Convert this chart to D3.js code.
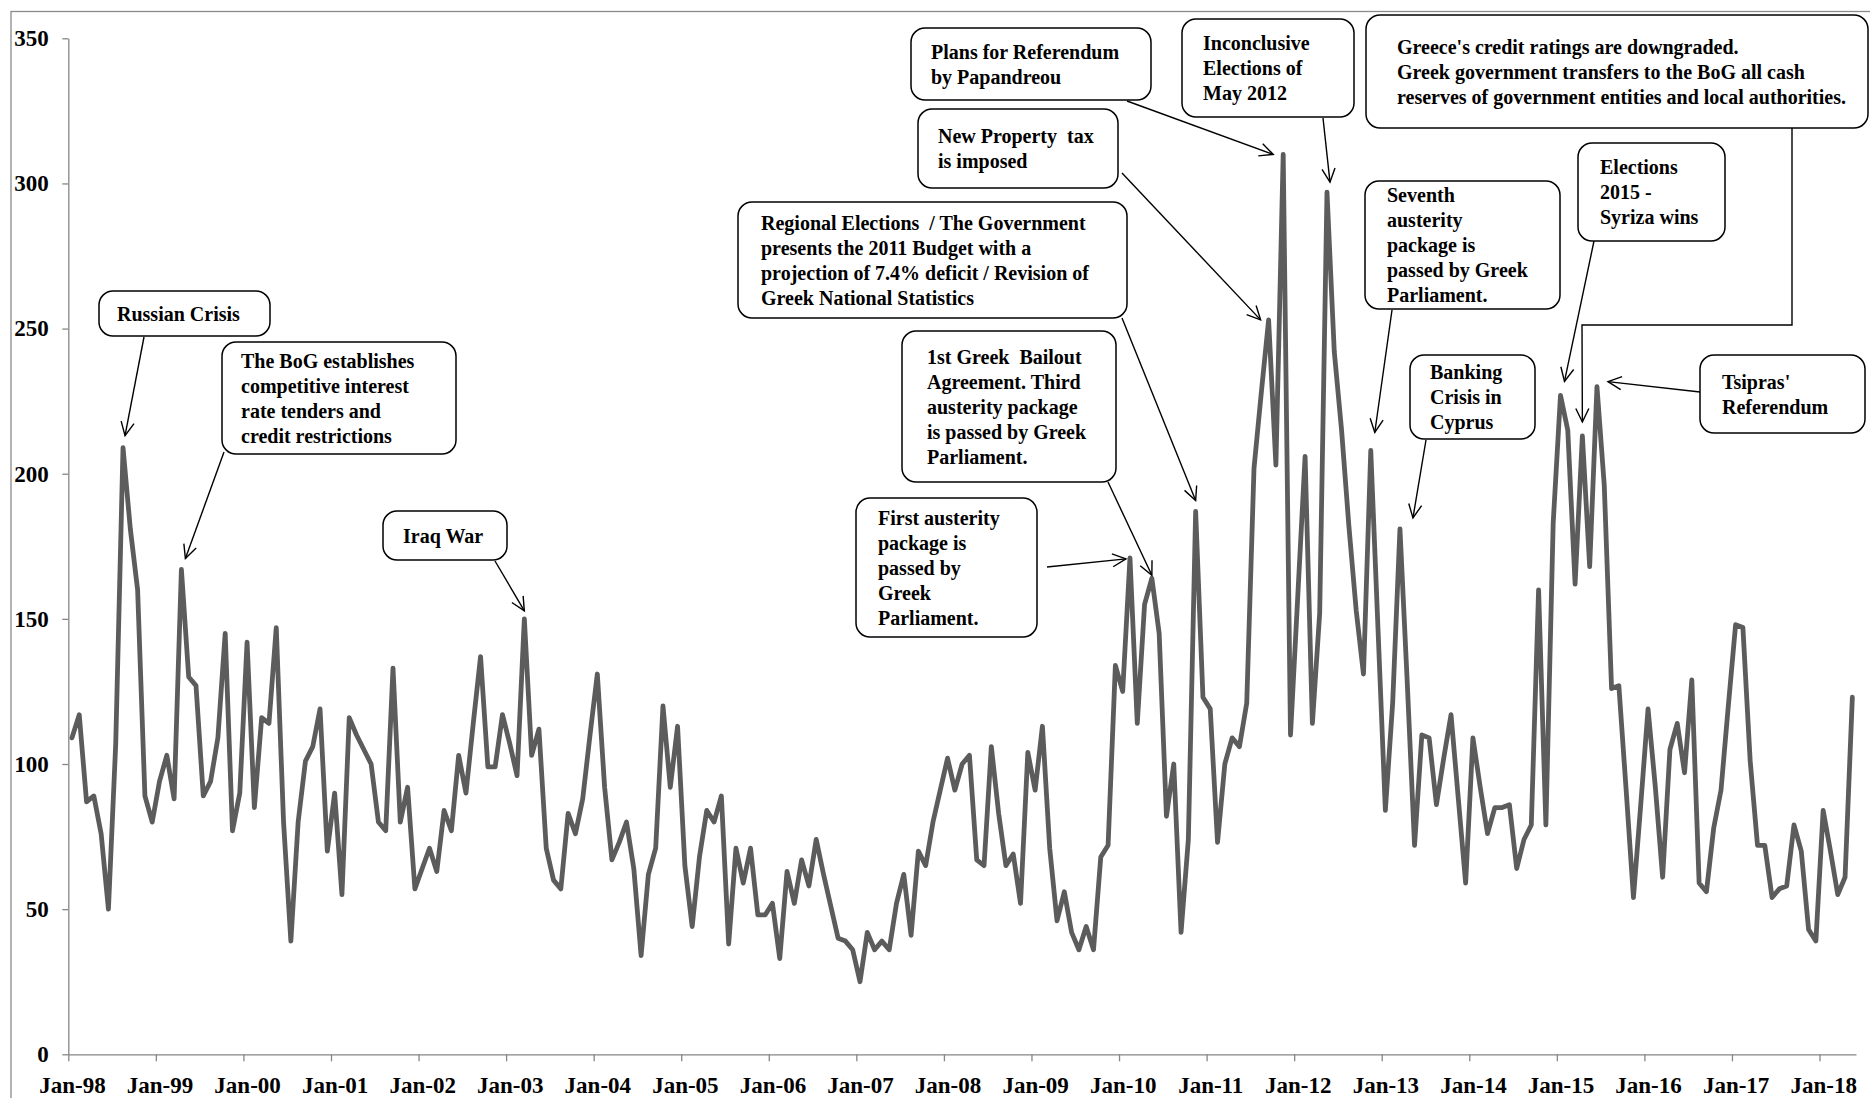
<!DOCTYPE html>
<html>
<head>
<meta charset="utf-8">
<script src="https://cdn.jsdelivr.net/npm/d3@7"></script>
<style>
  html, body { margin: 0; padding: 0; background: #fff; }
  svg { display: block; }
  text { font-family: "Liberation Serif", "Times New Roman", serif; font-weight: bold; fill: #000; }
  .ann text { white-space: pre; }
</style>
</head>
<body>
<svg id="chart" width="1870" height="1098"></svg>
<script>
// ---------------- DATA ----------------
const startYear = 1998;               // first month: Jan-1998 (monthly series)
const values = [
  109,117,87,89,76,50,107,209,181,160,89,80,          // 1998
  94,103,88,167,130,127,89,94,109,145,77,90,          // 1999
  142,85,116,114,147,80,39,80,101,106,119,70,         // 2000
  90,55,116,110,105,100,80,77,133,80,92,57,           // 2001
  64,71,63,84,77,103,90,114,137,99,99,117,            // 2002
  107,96,150,103,112,71,60,57,83,76,88,110,           // 2003
  131,92,67,73,80,64,34,62,71,120,92,113,             // 2004
  65,44,68,84,80,89,38,71,59,71,48,48,                // 2005
  52,33,63,52,67,58,74,62,51,40,39,36,                // 2006
  25,42,36,39,36,52,62,41,70,65,80,91,                // 2007
  102,91,100,103,67,65,106,83,65,69,52,104,           // 2008
  91,113,71,46,56,42,36,44,36,68,72,134,              // 2009
  125,171,114,155,164,145,82,100,42,74,187,123,       // 2010
  119,73,100,109,106,121,202,228,253,203,310,110,     // 2011
  158,206,114,152,297,242,215,182,153,131,208,146,    // 2012
  84,121,181,128,72,110,109,86,102,117,88,59,         // 2013
  109,92,76,85,85,86,64,74,79,160,79,183,             // 2014
  227,215,162,213,168,230,196,126,127,91,54,86,       // 2015
  119,92,61,105,114,97,129,59,56,78,91,120,           // 2016
  148,147,101,72,72,54,57,58,79,70,43,39,             // 2017
  84,70,55,61,123                                     // 2018
];
const xTickLabels = ["Jan-98","Jan-99","Jan-00","Jan-01","Jan-02","Jan-03","Jan-04","Jan-05",
  "Jan-06","Jan-07","Jan-08","Jan-09","Jan-10","Jan-11","Jan-12","Jan-13","Jan-14","Jan-15",
  "Jan-16","Jan-17","Jan-18"];
const yTicks = [0,50,100,150,200,250,300,350];

// annotation texts and the month index each one points to
const annTexts = [
  ["Russian Crisis"],
  ["The BoG establishes","competitive interest","rate tenders and","credit restrictions"],
  ["Iraq War"],
  ["First austerity","package is","passed by","Greek","Parliament."],
  ["1st Greek  Bailout","Agreement. Third","austerity package","is passed by Greek","Parliament."],
  ["Regional Elections  / The Government","presents the 2011 Budget with a","projection of 7.4% deficit / Revision of","Greek National Statistics"],
  ["New Property  tax","is imposed"],
  ["Plans for Referendum","by Papandreou"],
  ["Inconclusive","Elections of","May 2012"],
  ["Greece's credit ratings are downgraded.","Greek government transfers to the BoG all cash","reserves of government entities and local authorities."],
  ["Seventh","austerity","package is","passed by Greek","Parliament."],
  ["Banking","Crisis in","Cyprus"],
  ["Elections","2015 -","Syriza wins"],
  ["Tsipras'","Referendum"]
];
const annTargets = [7,15,62,145,148,154,164,166,172,207,178,182,204,209];

// ---------------- LAYOUT (positions / styles) ----------------
const annLayout = [
  {box:[99,291,270,336],   tx:117,  from:[[144,337]],  off:[2,-12]},
  {box:[222,342,456,454],  tx:241,  from:[[224,452]],  off:[4,-11]},
  {box:[383,511,507,560],  tx:403,  from:[[495,561]],  off:[0,-8]},
  {box:[856,498,1037,637], tx:878,  from:[[1047,567]], off:[-4,1]},
  {box:[902,331,1116,482], tx:927,  from:[[1108,482]], off:[0,-3]},
  {box:[738,202,1127,318], tx:761,  from:[[1122,318]], off:[0,-11]},
  {box:[918,109,1118,188], tx:938,  from:[[1122,173]], off:[-8,0]},
  {box:[911,28,1151,100],  tx:931,  from:[[1127,101]], off:[-10,0]},
  {box:[1182,19,1354,117], tx:1203, from:[[1323,118]], off:[3,-10]},
  {box:[1366,15,1868,128], tx:1397, from:[[1792,128],[1792,325],[1582,325]], off:[0,-14]},
  {box:[1365,181,1560,309],tx:1387, from:[[1392,310]], off:[4,-18]},
  {box:[1410,355,1535,439],tx:1430, from:[[1426,440]], off:[13,-11]},
  {box:[1578,143,1725,241],tx:1600, from:[[1594,241]], off:[4,-14]},
  {box:[1700,355,1865,433],tx:1722, from:[[1700,392]], off:[11,-5]}
];

const W = 1870, H = 1098;
const plot = {left: 68.3, right: 1856, top: 38.3, bottom: 1054.3};
const axisColor = "#868686";
const lineColor = "#5c5c5c";
const annFont = 20, annLH = 25;

const svg = d3.select("#chart");

// outer chart frame
svg.append("rect")
  .attr("x", 11).attr("y", 11.5)
  .attr("width", W + 20).attr("height", H + 20)
  .attr("fill", "none").attr("stroke", "#8a8a8a").attr("stroke-width", 1.3);

const n = values.length;
const x = d3.scaleLinear().domain([0, n]).range([plot.left, plot.right]);
const y = d3.scaleLinear().domain([0, 350]).range([plot.bottom, plot.top]);
const px = i => x(i + 0.5);

// y axis
const yAxis = svg.append("g")
  .attr("transform", `translate(${plot.left},0)`)
  .call(d3.axisLeft(y).tickValues(yTicks).tickSize(6).tickSizeOuter(0).tickPadding(13.5));
yAxis.attr("font-family", null);
yAxis.select(".domain").attr("stroke", axisColor).attr("stroke-width", 1.3);
yAxis.selectAll(".tick line").attr("stroke", axisColor).attr("stroke-width", 1.3);
yAxis.selectAll(".tick text").style("font-size", "23px");

// x axis: ticks at year boundaries, labels centered on first month
const xAxis = svg.append("g")
  .attr("transform", `translate(0,${plot.bottom})`)
  .call(d3.axisBottom(x)
    .tickValues(xTickLabels.map((d, i) => i * 12))
    .tickFormat((d, i) => xTickLabels[i])
    .tickSize(7).tickSizeOuter(0).tickPadding(15.5));
xAxis.attr("font-family", null);
xAxis.select(".domain").attr("stroke", axisColor).attr("stroke-width", 1.3);
xAxis.selectAll(".tick line").attr("stroke", axisColor).attr("stroke-width", 1.3);
xAxis.selectAll(".tick text")
  .style("font-size", "23px")
  .attr("dx", (x(1) - x(0)) / 2);

// data line
const line = d3.line().x((d, i) => px(i)).y(d => y(d));
svg.append("path")
  .datum(values)
  .attr("d", line)
  .attr("fill", "none")
  .attr("stroke", lineColor)
  .attr("stroke-width", 4.8)
  .attr("stroke-linejoin", "round")
  .attr("stroke-linecap", "round");

// annotations
const ann = svg.append("g").attr("class", "ann");
annTexts.forEach((lines, k) => {
  const L = annLayout[k];
  const [x0, y0, x1, y1] = L.box;
  const g = ann.append("g");
  // connector + arrow
  const ti = annTargets[k];
  const tip = [px(ti) + L.off[0], y(values[ti]) + L.off[1]];
  const pts = L.from.concat([tip]);
  g.append("path")
    .attr("d", d3.line()(pts))
    .attr("fill", "none").attr("stroke", "#000").attr("stroke-width", 1.4);
  const prev = pts[pts.length - 2];
  const ang = Math.atan2(tip[1] - prev[1], tip[0] - prev[0]);
  const hl = 15, ha = 0.45;
  const a1 = [tip[0] - hl * Math.cos(ang - ha), tip[1] - hl * Math.sin(ang - ha)];
  const a2 = [tip[0] - hl * Math.cos(ang + ha), tip[1] - hl * Math.sin(ang + ha)];
  g.append("path")
    .attr("d", d3.line()([a1, tip, a2]))
    .attr("fill", "none").attr("stroke", "#000").attr("stroke-width", 1.4);
  // box
  g.append("rect")
    .attr("x", x0).attr("y", y0)
    .attr("width", x1 - x0).attr("height", y1 - y0)
    .attr("rx", 14).attr("ry", 14)
    .attr("fill", "#fff").attr("stroke", "#000").attr("stroke-width", 1.5);
  // text, vertically centered
  const cy = (y0 + y1) / 2;
  const t = g.append("text").style("font-size", annFont + "px");
  lines.forEach((s, j) => {
    t.append("tspan")
      .attr("x", L.tx)
      .attr("y", cy + (j - (lines.length - 1) / 2) * annLH + 0.35 * annFont)
      .text(s);
  });
});
</script>
</body>
</html>
